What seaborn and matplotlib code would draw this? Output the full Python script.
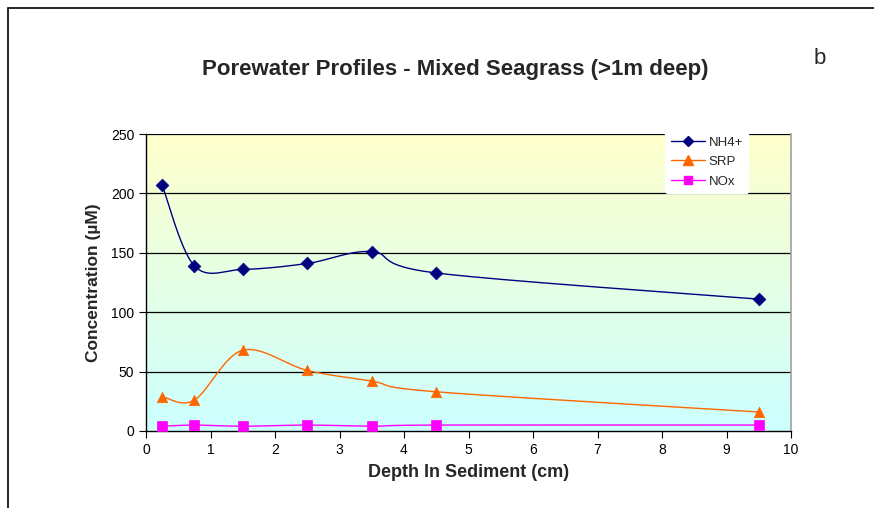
import numpy as np
import pandas as pd
import matplotlib
matplotlib.use('Agg')
import matplotlib.pyplot as plt
import seaborn as sns
from matplotlib.colors import LinearSegmentedColormap
from matplotlib.lines import Line2D
from matplotlib.patches import Rectangle

# Data
depth = [0.25, 0.75, 1.5, 2.5, 3.5, 4.5, 9.5]
nh4 = [207, 139, 136, 141, 151, 133, 111]
srp = [29, 26, 68, 51, 42, 33, 16]
nox = [4, 5, 4, 5, 4, 5, 5]

series_names = ['NH4+', 'SRP', 'NOx']
series_values = [nh4, srp, nox]
colors = ['#000080', '#FF6600', '#FF00FF']
markers = ['D', '^', 's']
msizes = [6.5, 7.5, 6.5]


def smooth_curve(x, y, n=30):
    # Excel-style smoothed line (cubic bezier, Catmull-Rom control points)
    p = np.column_stack([x, y]).astype(float)
    pts = [p[0]]
    for i in range(len(p) - 1):
        p0 = p[i - 1] if i > 0 else p[i]
        p1 = p[i]
        p2 = p[i + 1]
        p3 = p[i + 2] if i + 2 < len(p) else p[i + 1]
        c1 = p1 + (p2 - p0) / 6
        c2 = p2 - (p3 - p1) / 6
        t = np.linspace(0, 1, n)[1:, None]
        seg = ((1 - t) ** 3) * p1 + 3 * ((1 - t) ** 2) * t * c1 + 3 * (1 - t) * t ** 2 * c2 + t ** 3 * p2
        pts.extend(seg)
    pts = np.array(pts)
    return pts[:, 0], pts[:, 1]


sns.set_style('white')
plt.rcParams['font.family'] = ['Liberation Sans', 'DejaVu Sans']

fig = plt.figure(figsize=(8.74, 5.08), dpi=100)
ax = fig.add_axes([146 / 874, 77 / 508, 645 / 874, 297 / 508])

# gradient background of plot area
grad_cmap = LinearSegmentedColormap.from_list('bg', ['#CCFFFF', '#FFFFCC'])
grad = np.linspace(0, 1, 256).reshape(-1, 1)
ax.imshow(grad, cmap=grad_cmap, origin='lower', extent=[0, 10, 0, 250],
          aspect='auto', zorder=0)

handles = []
for name, vals, c, m, ms in zip(series_names, series_values, colors, markers, msizes):
    sx, sy = smooth_curve(depth, vals)
    sns.lineplot(x=sx, y=sy, color=c, lw=1.0, sort=False, ax=ax, zorder=3,
                 estimator=None)
    df = pd.DataFrame({'depth': depth, 'conc': vals})
    sns.scatterplot(data=df, x='depth', y='conc', color=c, marker=m, s=ms ** 2,
                    edgecolor=c, linewidth=0.5, ax=ax, zorder=4, clip_on=False)
    handles.append(Line2D([0], [0], color=c, lw=1.0, marker=m, markersize=ms - 1,
                          markerfacecolor=c, markeredgecolor=c, label=name))

ax.set_xlim(0, 10)
ax.set_ylim(0, 250)
ax.set_xticks(range(0, 11))
ax.set_yticks(range(0, 251, 50))
for yv in range(50, 251, 50):
    ax.axhline(yv, color='black', lw=0.9, zorder=2)

ax.tick_params(axis='both', direction='out', length=5, width=0.8,
               labelsize=10, colors='black', bottom=True, left=True)
for s in ['left', 'bottom']:
    ax.spines[s].set_color('black')
    ax.spines[s].set_linewidth(1.0)
ax.spines['top'].set_visible(False)
ax.spines['right'].set_color('#A0A0A0')
ax.spines['right'].set_linewidth(1.2)

ax.set_xlabel('Depth In Sediment (cm)', fontsize=13, fontweight='bold', labelpad=5)
ax.set_ylabel('Concentration (\u00b5M)', fontsize=12.5, fontweight='bold', labelpad=7)

leg = ax.legend(handles=handles, loc='upper left', bbox_to_anchor=(0.805, 1.01),
                borderaxespad=0, frameon=True, fontsize=9.5, handlelength=2.6,
                handletextpad=0.3, labelspacing=0.55, borderpad=0.4)
leg.get_frame().set_facecolor('white')
leg.get_frame().set_edgecolor('white')
leg.get_frame().set_alpha(1)
leg.set_zorder(10)

fig.text(455 / 874, 1 - 70 / 508, 'Porewater Profiles - Mixed Seagrass (>1m deep)',
         ha='center', va='center', fontsize=16, fontweight='bold')
fig.text(820 / 874, 1 - 58 / 508, 'b', ha='center', va='center', fontsize=16)

fig.patches.append(Rectangle((8 / 874, -0.1), 1.2, 1.1 - 8 / 508, transform=fig.transFigure,
                             fill=False, edgecolor='black', lw=1.2, figure=fig))

fig.savefig('out.png', dpi=100, facecolor='white')
